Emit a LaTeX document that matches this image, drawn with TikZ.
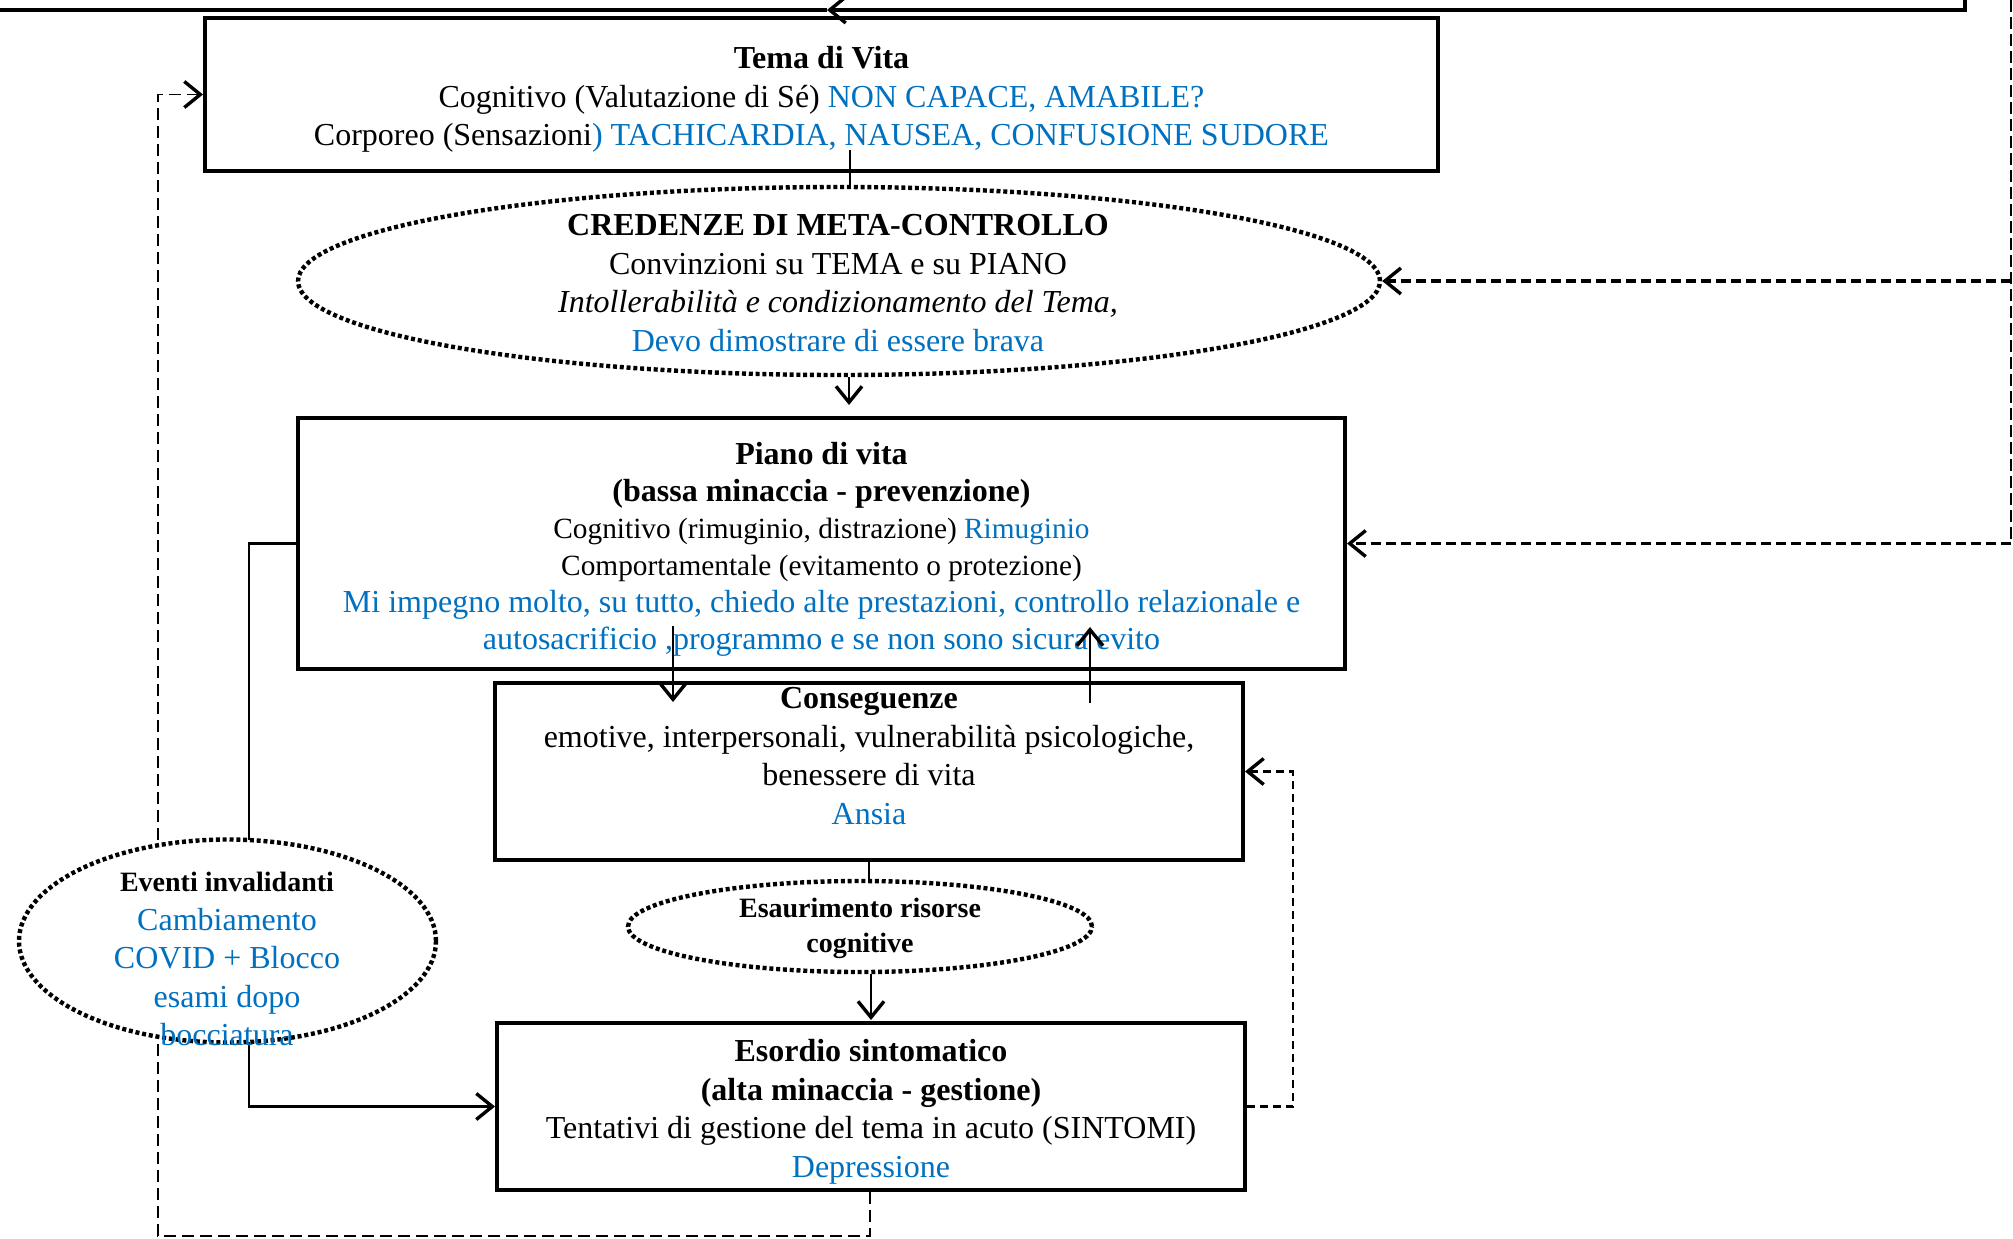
\documentclass[tikz,border=0pt]{standalone}
\usepackage{fontspec}
\setmainfont{Liberation Serif}
\usetikzlibrary{arrows.meta,shapes.geometric}
\definecolor{myblue}{RGB}{0,112,192}
\newcommand{\blu}[1]{\textcolor{myblue}{#1}}
\begin{document}
\begin{tikzpicture}[x=0.5pt,y=-0.5pt,
  box/.style={draw,line width=2pt,rectangle,fill=white,inner sep=0pt},
  dotell/.style={draw,ellipse,line width=2.2pt,dash pattern=on 2pt off 1.4pt,fill=white,inner sep=0pt},
  txt/.style={align=center,inner sep=0pt,font=\fontsize{16}{19.25}\selectfont},
  barb/.style={-{Straight Barb[length=8pt,width=13pt,line width=1.7pt]}},
  conn/.style={line width=1pt},
  thinconn/.style={line width=0.75pt},
  dashA/.style={line width=0.8pt,dash pattern=on 6pt off 3pt},
  dashB/.style={line width=1.3pt,dash pattern=on 4pt off 2.5pt},
  dashC/.style={line width=1pt,dash pattern=on 6pt off 2.5pt},
  dashD/.style={line width=1.7pt,dash pattern=on 5pt off 2.5pt},
  topline/.style={line width=2pt}
]
\useasboundingbox (0,0) rectangle (2013,1238);

% ---------- shapes ----------
\node[box,minimum width=616.5pt,minimum height=76.5pt] (tema) at (821.5,94.5) {};
\node[txt] (tematxt) at (821.5,99.5)
 {\textbf{Tema di Vita}\\
  Cognitivo (Valutazione di Sé) \blu{NON CAPACE, AMABILE?}\\
  Corporeo (Sensazioni\blu{) TACHICARDIA, NAUSEA, CONFUSIONE SUDORE}};

\node[dotell,minimum width=541pt,minimum height=94pt] (cred) at (839,281) {};
\node[txt] (credtxt) at (838,283)
 {\textbf{CREDENZE DI META-CONTROLLO}\\
  Convinzioni su TEMA e su PIANO\\
  \textit{Intollerabilità e condizionamento del Tema,}\\
  \blu{Devo dimostrare di essere brava}};

\node[box,minimum width=523.5pt,minimum height=125.5pt] (piano) at (821.5,543.5) {};
\node[txt,font=\fontsize{16}{18.5}\selectfont] (pianotxt) at (821.5,549.5)
 {\textbf{Piano di vita}\\
  \textbf{(bassa minaccia - prevenzione)}\\
  {\fontsize{14.67}{18.5}\selectfont Cognitivo (rimuginio, distrazione) \blu{Rimuginio}}\\
  {\fontsize{14.67}{18.5}\selectfont Comportamentale (evitamento o protezione)}\\
  \blu{Mi impegno molto, su tutto, chiedo alte prestazioni, controllo relazionale e}\\
  \blu{autosacrificio ,programmo e se non sono sicura evito}};

\node[box,minimum width=374pt,minimum height=88.5pt] (conseg) at (869,771.5) {};
\node[txt] (consegtxt) at (869,756)
 {\textbf{Conseguenze}\\
  emotive, interpersonali, vulnerabilità psicologiche,\\
  benessere di vita\\
  \blu{Ansia}};

\node[dotell,minimum width=232pt,minimum height=45.5pt] (esaur) at (860,926.5) {};
\node[txt,font=\fontsize{14}{17.5}\selectfont\bfseries] (esaurtxt) at (860,928)
 {Esaurimento risorse\\cognitive};

\node[box,minimum width=374pt,minimum height=83.5pt] (esordio) at (871,1106.5) {};
\node[txt] (esordiotxt) at (871,1112)
 {\textbf{Esordio sintomatico}\\
  \textbf{(alta minaccia - gestione)}\\
  Tentativi di gestione del tema in acuto (SINTOMI)\\
  \blu{Depressione}};

% ---------- coordinates for free ends ----------
\coordinate (tcs) at (850,150);
\coordinate (cp) at (849,405);
\coordinate (pd1) at (673,626);
\coordinate (pd2) at (673,702);
\coordinate (pu1) at (1090,703);
\coordinate (pu2) at (1090,627);
\coordinate (ee) at (871,1020);
\coordinate (lsolid1) at (249,543.5);
\coordinate (lsolid2) at (249,1106.5);
\coordinate (ldash1) at (870,1236);
\coordinate (ldash2) at (158,1236);
\coordinate (ldash3) at (158,94.5);
\coordinate (rdash1) at (1293,1106.5);
\coordinate (rdash2) at (1293,771.5);
\coordinate (bigtop) at (2011,0);
\coordinate (bigmid) at (2011,281);
\coordinate (bigbot) at (2011,543.5);
\coordinate (toptr) at (1965,0);
\coordinate (toptc) at (1965,10);
\coordinate (toptip) at (827,10);
\coordinate (toptl) at (0,10);

% ---------- connectors ----------
\draw[thinconn] (tcs) -- (tcs |- cred.north);
\draw[conn,barb] (cp |- cred.south) -- (cp);
\draw[conn,barb] (pd1) -- (pd2);
\draw[conn,barb] (pu1) -- (pu2);
\draw[conn] (conseg.south) -- (conseg.south |- esaur.north);
\draw[conn,barb] (ee |- esaur.south) -- (ee);
\draw[line width=1.3pt,barb] (piano.west) -- (lsolid1) -- (lsolid2) -- (esordio.west);
\draw[dashA,barb] (esordio.south -| ldash1) -- (ldash1) -- (ldash2) -- (ldash3) -- (tema.west);
\draw[dashB,barb] (esordio.east) -- (rdash1) -- (rdash2) -- (conseg.east);
\draw[dashC] (bigtop) -- (bigbot);
\draw[dashD,barb] (bigbot) -- (piano.east);
\draw[dashD,barb] (bigmid) -- (cred.east);
\draw[topline,barb] (toptr) -- (toptc) -- (toptip);
\draw[topline] (toptip) -- (toptl);

% ---------- invalidating events (on top of the lines behind it) ----------
\node[dotell,minimum width=208.5pt,minimum height=101.5pt] (eventi) at (227.5,941) {};
\node[txt] (eventitxt) at (227,959)
 {{\fontsize{14}{19}\selectfont\bfseries Eventi invalidanti}\\
  \blu{Cambiamento}\\
  \blu{COVID + Blocco}\\
  \blu{esami dopo}\\
  \blu{bocciatura}};
\end{tikzpicture}
\end{document}
